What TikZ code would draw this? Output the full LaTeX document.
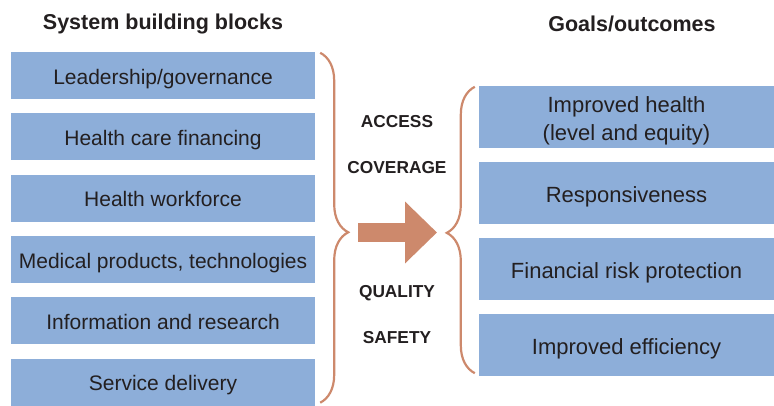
\documentclass[tikz,border=0pt]{standalone}
\usepackage{fontspec}
\setmainfont{Liberation Sans}
\usetikzlibrary{positioning}
\usetikzlibrary{arrows.meta}
\usetikzlibrary{decorations.pathreplacing}
\definecolor{boxblue}{RGB}{141,174,217}
\definecolor{bracecol}{RGB}{205,137,108}
\definecolor{inkcol}{RGB}{35,31,32}
\tikzset{
    block/.style = {rectangle, fill=boxblue, minimum width=304pt, minimum height=47pt, inner sep=0pt, text height=17.4pt, text depth=0pt, text=inkcol, font=\fontsize{21}{25}\selectfont},
    goal/.style = {rectangle, fill=boxblue, minimum width=295pt, minimum height=62pt, inner sep=0pt, text height=18.6pt, text depth=0pt, align=center, text=inkcol, font=\fontsize{22}{28}\selectfont},
    title/.style = {text=inkcol, font=\fontsize{21.5}{25}\selectfont\bfseries},
    midtext/.style = {text=inkcol, font=\fontsize{17.3}{20}\selectfont\bfseries},
    bracen/.style = {decorate, decoration={brace, amplitude=28pt, aspect=#1}, line width=2.2pt, draw=bracecol},
    edgen/.style = {-{Triangle[length=32pt,width=60pt]}, line width=19pt, draw=bracecol}, % big arrow
}

\begin{document}
\begin{tikzpicture}[x=1pt,y=1pt]
%
\node[title] at (163,379) (ttl) {System building blocks};
\node[title] at (632,379) (ttr) {Goals/outcomes};
%
\node[block] at (163,327.5) (lead) {Leadership/governance};
\node[block] at (163,266.2) (fin) {Health care financing};
\node[block] at (163,204.9) (work) {Health workforce};
\node[block] at (163,143.6) (med) {Medical products, technologies};
\node[block] at (163,82.3) (info) {Information and research};
\node[block] at (163,21) (serv) {Service delivery};
%
\node[goal, text height=46.6pt] at (626.5,286) (hlth) {Improved health\\(level and equity)};
\node[goal] at (626.5,210) (resp) {Responsiveness};
\node[goal] at (626.5,134) (risk) {Financial risk protection};
\node[goal] at (626.5,58) (eff) {Improved efficiency};
%
\node[midtext] at (397,281) (acc) {ACCESS};
\node[midtext] at (397,235) (cov) {COVERAGE};
\node[midtext] at (397,110) (qual) {QUALITY};
\node[midtext] at (397,65) (saf) {SAFETY};
%
\draw[bracen=0.513] ([xshift=5pt,yshift=-1pt]lead.north east) -- ([xshift=5pt,yshift=3pt]serv.south east);
\draw[bracen=0.49] ([xshift=-4pt,yshift=3pt]eff.south west) -- ([xshift=-4pt,yshift=-1pt]hlth.north west);
%
\coordinate (ltip) at (348,170.5);
\coordinate (rtip) at (447,170.5);
\draw[edgen, shorten <=10pt, shorten >=10pt] (ltip) -- (rtip);

\path[use as bounding box] (0,0) rectangle (774,403);

\end{tikzpicture}
\end{document}
